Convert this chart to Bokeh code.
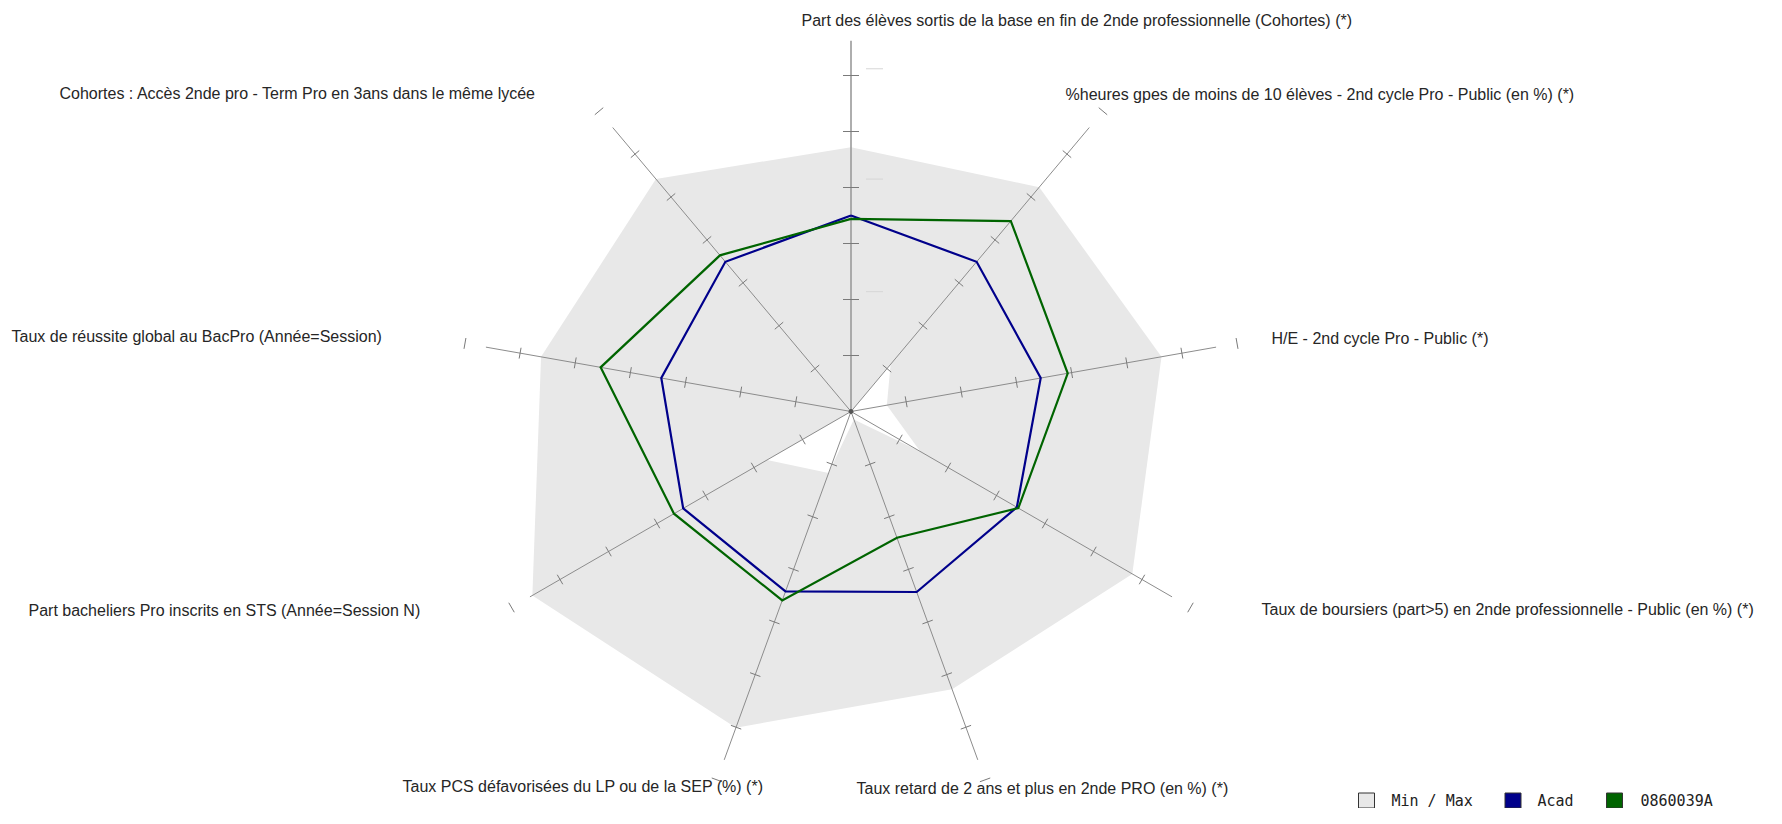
import numpy as np
from bokeh.plotting import figure
from bokeh.models import Range1d
from bokeh.embed import file_html
from bokeh.resources import INLINE
from bokeh.core.properties import value

# ---------------- data ----------------
categories = [
    "Part des élèves sortis de la base en fin de 2nde professionnelle (Cohortes) (*)",
    "%heures gpes de moins de 10 élèves - 2nd cycle Pro - Public (en %) (*)",
    "H/E - 2nd cycle Pro - Public (*)",
    "Taux de boursiers (part>5) en 2nde professionnelle - Public (en %) (*)",
    "Taux retard de 2 ans et plus en 2nde PRO (en %) (*)",
    "Taux PCS défavorisées du LP ou de la SEP (%) (*)",
    "Part bacheliers Pro inscrits en STS (Année=Session N)",
    "Taux de réussite global au BacPro (Année=Session)",
    "Cohortes : Accès 2nde pro - Term Pro en 3ans dans le même lycée",
]
acad_values = [3.50, 3.49, 3.44, 3.42, 3.43, 3.42, 3.46, 3.44, 3.49]
etab_values = [3.44, 4.44, 3.93, 3.45, 2.40, 3.59, 3.65, 4.54, 3.64]
max_values = [4.72, 5.23, 5.63, 5.80, 5.28, 6.01, 6.57, 5.62, 5.42]
min_values = [0.00, 1.10, 0.65, 1.43, 0.15, 1.17, 1.73, 0.00, 0.00]
tick_values = [1, 2, 3, 4, 5, 6]
end_mark_value = 7
axis_max = 6.62
legend_labels = ["Min / Max", "Acad", "0860039A"]

# ---------------- layout / style ----------------
W, H = 1766, 808
SCREEN_H = 824
CX, CY = 850.5, SCREEN_H - 411          # centre in data coords (1 unit = 1 px)
UNIT = 56.0                               # px per radial unit
label_x = [801, 1065, 1271, 1261, 856, 402, 28, 11, 59]
label_y = [20, 94, 338, 609, 788, 786, 610, 336, 93]
legend_box_x = [1366, 1512.5, 1614]
legend_text_x = [1391, 1537, 1640]
legend_y = 800

GREY_FILL = "#e8e8e8"
BLUE = "#00008b"
GREEN = "#006400"
AXIS_COL = "#8c8c8c"

n = len(categories)
ang = np.deg2rad(90 - 40 * np.arange(n))
ca, sa = np.cos(ang), np.sin(ang)


def polar(vals):
    r = np.asarray(vals, dtype=float) * UNIT
    return CX + r * ca, CY + r * sa


p = figure(width=W, height=H, x_range=Range1d(0, W),
           y_range=Range1d(SCREEN_H - H, SCREEN_H),
           output_backend="svg", toolbar_location=None, min_border=0,
           x_axis_type=None, y_axis_type=None)
p.grid.visible = False
p.outline_line_color = None
p.background_fill_color = "white"
p.border_fill_color = "white"

# min / max band
mx, my = polar(max_values)
p.patch(list(mx), list(my), fill_color=GREY_FILL, line_color=None)
nx, ny = polar(min_values)
p.patch(list(nx), list(ny), fill_color="white", line_color=None)

# axes
ex, ey = polar([axis_max] * n)
widths = [1.6] + [1.0] * (n - 1)
cols = ["#9a9a9a"] + [AXIS_COL] * (n - 1)
p.segment(x0=[CX] * n, y0=[CY] * n, x1=list(ex), y1=list(ey),
          line_color=cols, line_width=widths)

# ticks
tx0, ty0, tx1, ty1 = [], [], [], []
for i in range(n):
    vals = list(tick_values) + ([end_mark_value] if i > 0 else [])
    half = 8.0 if i == 0 else 5.5
    for t in vals:
        px = CX + t * UNIT * ca[i]
        py = CY + t * UNIT * sa[i]
        dx, dy = -sa[i] * half, ca[i] * half
        tx0.append(px - dx); ty0.append(py - dy)
        tx1.append(px + dx); ty1.append(py + dy)
p.segment(x0=tx0, y0=ty0, x1=tx1, y1=ty1, line_color="#7a7a7a", line_width=1)

# faint tick labels on the vertical axis
faint = [2.14, 4.15, 6.12]
p.segment(x0=[CX + 15] * 3, y0=[CY + f * UNIT for f in faint],
          x1=[CX + 32] * 3, y1=[CY + f * UNIT for f in faint],
          line_color="#d6d6d6", line_width=1)

# series
for vals, col in ((acad_values, BLUE), (etab_values, GREEN)):
    x, y = polar(vals)
    p.line(list(x) + [x[0]], list(y) + [y[0]], line_color=col, line_width=2.2,
           line_join="miter")

p.scatter([CX], [CY], size=4, color="#555555")

# axis titles
p.text(x=label_x, y=[SCREEN_H - v for v in label_y], text=categories,
       text_align="left", text_baseline="middle",
       text_font=value("Liberation Sans"), text_font_size="16px",
       text_color="#262626")

# legend
p.rect(x=legend_box_x, y=[SCREEN_H - legend_y] * 3, width=16, height=15,
       fill_color=[GREY_FILL, BLUE, GREEN], line_color="#333333", line_width=1)
p.text(x=legend_text_x, y=[SCREEN_H - legend_y] * 3, text=legend_labels,
       text_align="left", text_baseline="middle",
       text_font=value("DejaVu Sans Mono"), text_font_size="15px",
       text_color="#222222")

open("out.html", "w").write(file_html(p, INLINE))
